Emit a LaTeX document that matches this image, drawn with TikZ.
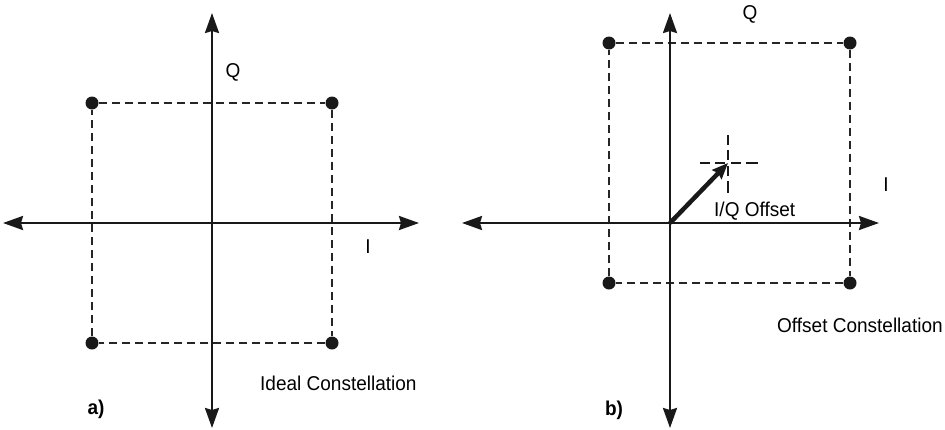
\documentclass[tikz,border=0pt]{standalone}
\usepackage{fontspec}
\setmainfont{Liberation Sans}[FakeStretch=0.95]
\usetikzlibrary{arrows.meta}
\tikzset{
  dot/.style={circle,fill=black!90,inner sep=0pt,minimum size=13pt},
  axis/.style={line width=2.3pt,black!90,{Stealth[length=20pt,width=14pt,inset=2pt]}-{Stealth[length=20pt,width=14pt,inset=2pt]}},
  frame/.style={line width=1.2pt,black!85,dash pattern=on 8pt off 5pt},
  crossdash/.style={line width=1.8pt,black!90,dash pattern=on 0pt off 3pt on 10pt off 5pt on 12pt off 20pt},
  offarrow/.style={line width=4.5pt,black!90,-{Stealth[length=16pt,width=13pt,inset=2pt]}},
  lbl/.style={inner sep=0pt,font=\fontsize{20}{23}\selectfont},
  tag/.style={inner sep=0pt,font=\fontsize{20}{23}\selectfont\bfseries}
}
\begin{document}
\begin{tikzpicture}[x=1pt,y=-1pt]
\useasboundingbox (0,0) rectangle (945,429);
% ---------- panel a ----------
\coordinate (aL) at (3,223);
\coordinate (aR) at (419,223);
\coordinate (aT) at (212,13);
\coordinate (aB) at (212,428);
\node[dot] (a1) at (92,103) {};
\node[dot] (a2) at (332,103) {};
\node[dot] (a3) at (332,343) {};
\node[dot] (a4) at (92,343) {};
\draw[frame] (a1) -- (a2) -- (a3) -- (a4) -- (a1);
\draw[axis] (aL) -- (aR);
\draw[axis] (aT) -- (aB);
\node[lbl] (aQ) at (233,72) {Q};
\node[lbl] (aI) at (368,247) {I};
\node[lbl,anchor=west] (aname) at (260,383) {Ideal Constellation};
\node[tag] (atag) at (96,409) {a)};
% ---------- panel b ----------
\coordinate (bL) at (462,223);
\coordinate (bR) at (879,223);
\coordinate (bT) at (670,13);
\coordinate (bB) at (670,428);
\coordinate (bO) at (670,223);
\node[dot] (b1) at (609,43) {};
\node[dot] (b2) at (850,43) {};
\node[dot] (b3) at (850,283) {};
\node[dot] (b4) at (609,283) {};
\draw[frame] (b1) -- (b2) -- (b3) -- (b4) -- (b1);
\draw[axis] (bL) -- (bR);
\draw[axis] (bT) -- (bB);
\coordinate (c) at (728,163);
\coordinate (cL) at (700,163);
\coordinate (cR) at (759,163);
\coordinate (cT) at (728,135);
\coordinate (cB) at (728,193);
\draw[crossdash] (c) -- (cL);
\draw[crossdash] (c) -- (cR);
\draw[crossdash] (c) -- (cT);
\draw[crossdash] (c) -- (cB);
\draw[offarrow] (bO) -- (c);
\node[lbl] (bQ) at (750,14) {Q};
\node[lbl] (bI) at (886,185) {I};
\node[lbl,anchor=west] (off) at (714,211) {I/Q Offset};
\node[lbl,anchor=west] (bname) at (777,325) {Offset Constellation};
\node[tag] (btag) at (614,410) {b)};
\end{tikzpicture}
\end{document}
